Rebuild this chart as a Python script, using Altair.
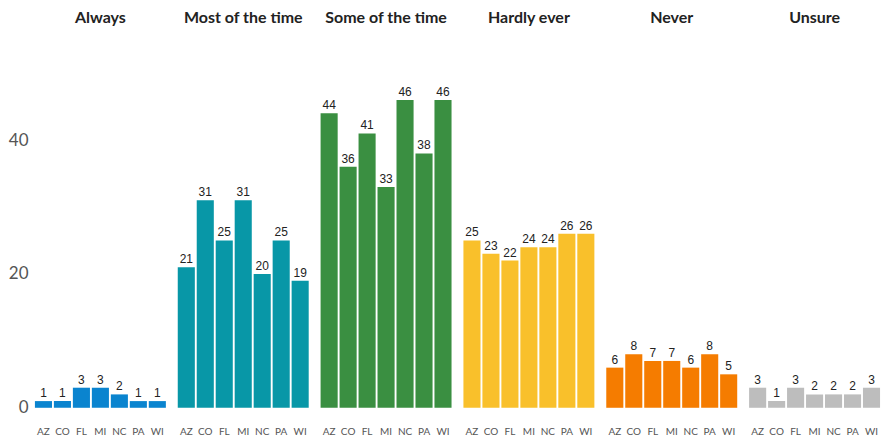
import altair as alt
import pandas as pd

answers = ["Always", "Most of the time", "Some of the time", "Hardly ever", "Never", "Unsure"]
states = ["AZ", "CO", "FL", "MI", "NC", "PA", "WI"]
always = [1, 1, 3, 3, 2, 1, 1]
most = [21, 31, 25, 31, 20, 25, 19]
some = [44, 36, 41, 33, 46, 38, 46]
hardly = [25, 23, 22, 24, 24, 26, 26]
never = [6, 8, 7, 7, 6, 8, 5]
unsure = [3, 1, 3, 2, 2, 2, 3]
colors = ["#0a84cf", "#0897a7", "#3a8f41", "#f9c02b", "#f57c00", "#bdbdbd"]

series = [always, most, some, hardly, never, unsure]
rows = []
for a, vals in zip(answers, series):
    for s, v in zip(states, vals):
        rows.append({"answer": a, "state": s, "value": v})
df = pd.DataFrame(rows)

base = alt.Chart().encode(
    x=alt.X("state:N", sort=states, title=None,
            scale=alt.Scale(paddingInner=0.1, paddingOuter=0.05),
            axis=alt.Axis(labelAngle=0, ticks=False, domain=False, labelFont="Lato",
                          labelFontSize=10, labelColor="#555", labelPadding=19)),
    y=alt.Y("value:Q", title=None, scale=alt.Scale(domain=[0, 50], nice=False),
            axis=alt.Axis(values=[0, 20, 40], ticks=False, domain=False, grid=False,
                          labelFont="Lato", labelFontSize=17, labelColor="#555",
                          labelPadding=6)),
)

bars = base.mark_bar().encode(
    color=alt.Color("answer:N", scale=alt.Scale(domain=answers, range=colors), legend=None)
)
text = base.mark_text(dy=-8, font="Liberation Sans", fontSize=12, color="#222").encode(
    text="value:Q"
)

chart = alt.layer(bars, text, data=df).properties(width=133, height=335).facet(
    column=alt.Column("answer:N", sort=answers, title=None,
                      header=alt.Header(labelFont="Lato", labelFontSize=16,
                                        labelFontWeight="bold", labelColor="#222",
                                        labelPadding=47))
).configure_facet(spacing=10).configure_view(stroke=None).properties(
    padding={"top": 2, "left": 0, "right": 0, "bottom": 0})

chart.save("out.html", embed_options={"renderer": "svg", "actions": False})
